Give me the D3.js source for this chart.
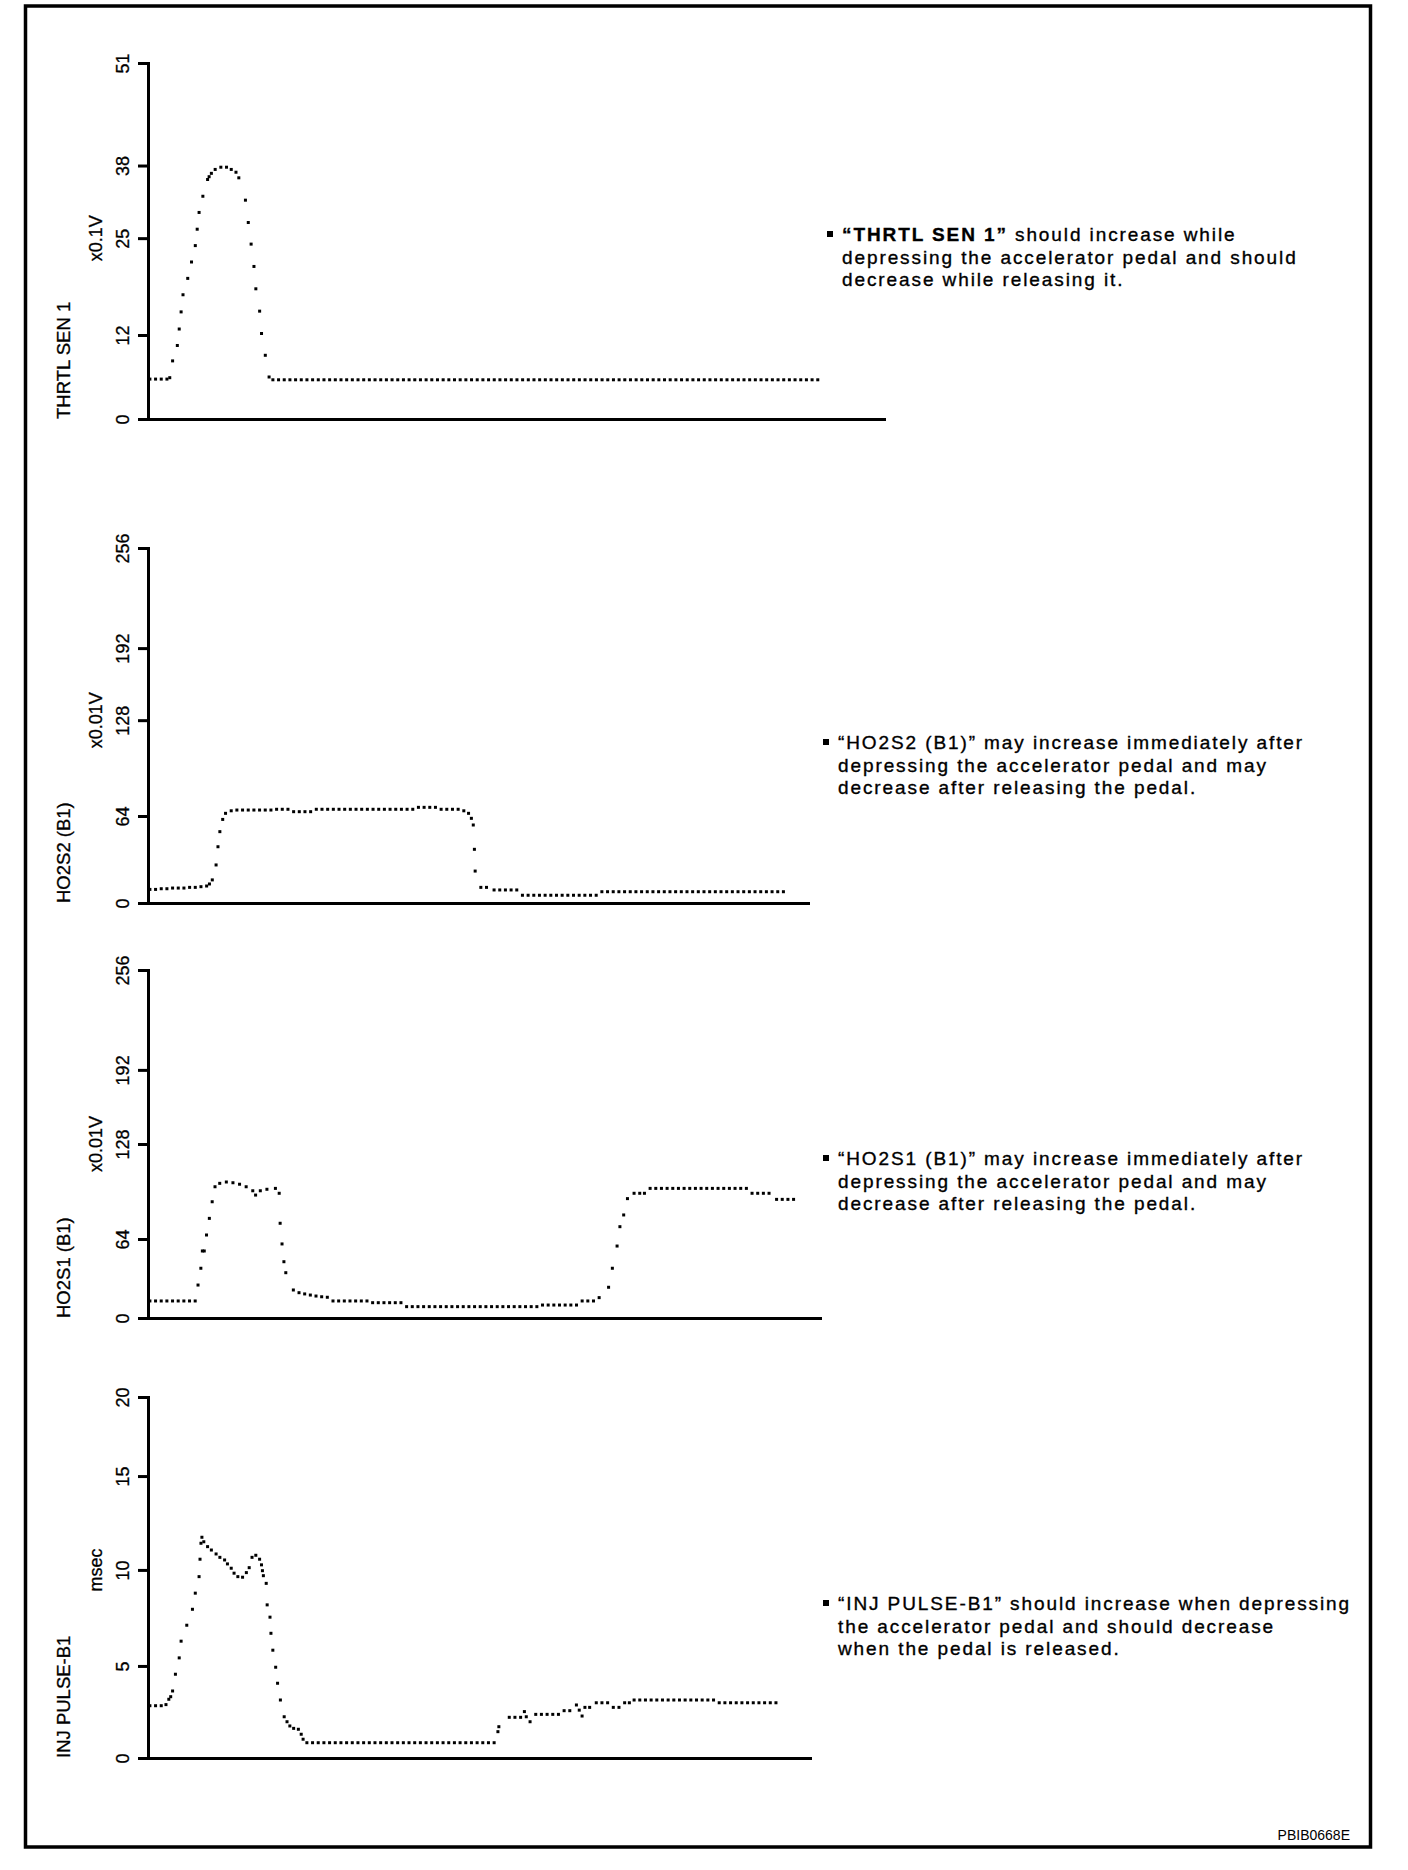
<!DOCTYPE html>
<html>
<head>
<meta charset="utf-8">
<script src="https://cdn.jsdelivr.net/npm/d3@7"></script>
<style>
  body { margin: 0; background: #fff; }
  svg text { font-family: "Liberation Sans", Arial, Helvetica, sans-serif; fill: #000; }
</style>
</head>
<body>
<div id="chart"></div>
<script>
// tick labels of each trace (as printed on the sheet)
var thrtlTicks = [0, 12, 25, 38, 51];
var ho2s2Ticks = [0, 64, 128, 192, 256];
var ho2s1Ticks = [0, 64, 128, 192, 256];
var injTicks = [0, 5, 10, 15, 20];

// recorded samples: [sample time, value]
var thrtlSen1 = [
  [1,5.7],[4,5.7],[7,5.7],[10,5.7],[11.5,5.9],[13,8.3],[15.5,10.5],[16.5,12.8],[17.5,15.1],[18.5,17.4],
  [21,19.6],[23,21.8],[25,24.0],[26,26.6],[27,29.6],[29,32.5],[31.5,35.5],[32.3,36.0],[33.5,36.6],[35.5,37.3],
  [38.5,37.7],[41.5,37.7],[44,37.3],[46.5,36.8],[48,35.8],[51.5,31.8],[53,27.8],[54.5,24.2],[56,21.2],[57,18.2],
  [59,15.2],[60,12.2],[62,9.1],[64,6.0],
  [66,5.6],[69,5.6],[72,5.6],[75,5.6],[78,5.6],[81,5.6],[84,5.6],[87,5.6],[90,5.6],[93,5.6],
  [96,5.6],[99,5.6],[102,5.6],[105,5.6],[108,5.6],[111,5.6],[114,5.6],[117,5.6],[120,5.6],[123,5.6],
  [126,5.6],[129,5.6],[132,5.6],[135,5.6],[138,5.6],[141,5.6],[144,5.6],[147,5.6],[150,5.6],[153,5.6],
  [156,5.6],[159,5.6],[162,5.6],[165,5.6],[168,5.6],[171,5.6],[174,5.6],[177,5.6],[180,5.6],[183,5.6],
  [186,5.6],[189,5.6],[192,5.6],[195,5.6],[198,5.6],[201,5.6],[204,5.6],[207,5.6],[210,5.6],[213,5.6],
  [216,5.6],[219,5.6],[222,5.6],[225,5.6],[228,5.6],[231,5.6],[234,5.6],[237,5.6],[240,5.6],[243,5.6],
  [246,5.6],[249,5.6],[252,5.6],[255,5.6],[258,5.6],[261,5.6],[264,5.6],[267,5.6],[270,5.6],[273,5.6],
  [276,5.6],[279,5.6],[282,5.6],[285,5.6],[288,5.6],[291,5.6],[294,5.6],[297,5.6],[300,5.6],[303,5.6],
  [306,5.6],[309,5.6],[312,5.6],[315,5.6],[318,5.6],[321,5.6],[324,5.6],[327,5.6],[330,5.6],[333,5.6],
  [336,5.6],[339,5.6],[342,5.6],[345,5.6],[348,5.6],[351,5.6],[354,5.6]
];

var ho2s2 = [
  [1,10],[4,10],[7,10.5],[10,10.5],[13,11],[16,11],[19,11],[22,11.5],[25,11.5],[28,12],
  [31,12.5],[32.5,14],[34,17],[36,28],[37,41.4],[38,52.5],[39.5,61.5],[41,65.8],[44,67.5],[47,68],
  [50,68],[53,68],[56,68],[59,68],[62,68],[65,68],[68,68.5],[71,68.5],[74,68.5],[77,66.9],
  [80,66.9],[83,66.9],[86,66.9],[89,68.5],[92,68.5],[95,68.5],[98,68.5],[101,68.5],[104,68.5],[107,68.5],
  [110,68.5],[113,68.5],[116,68.5],[119,68.5],[122,68.5],[125,68.5],[128,68.5],[131,68.5],[134,68.5],[137,68.5],
  [140,68.5],[143,69.8],[146,69.8],[149,69.8],[152,69.8],[155,68.5],[158,68.5],[161,68.5],[164,68.5],
  [167,67.5],[169.5,65.8],[171,62.3],[172,57.4],[172.6,39.5],[173,23.5],[176,11.5],[179,11.5],
  [183,9.6],[186,9.6],[189,9.6],[192,9.6],[195,9.6],
  [198,5.7],[201,5.7],[204,5.7],[207,5.7],[210,5.7],[213,5.7],[216,5.7],[219,5.7],[222,5.7],[225,5.7],
  [228,5.7],[231,5.7],[234,5.7],[237,5.7],
  [240,8.3],[243,8.3],[246,8.3],[249,8.3],[252,8.3],[255,8.3],[258,8.3],[261,8.3],[264,8.3],[267,8.3],
  [270,8.3],[273,8.3],[276,8.3],[279,8.3],[282,8.3],[285,8.3],[288,8.3],[291,8.3],[294,8.3],[297,8.3],
  [300,8.3],[303,8.3],[306,8.3],[309,8.3],[312,8.3],[315,8.3],[318,8.3],[321,8.3],[324,8.3],[327,8.3],
  [330,8.3],[333,8.3],[336,8.3]
];

var ho2s1 = [
  [1,13.8],[4,13.8],[7,13.8],[10,13.8],[13,13.8],[16,13.8],[19,13.8],[22,13.8],[25,13.8],[26.5,26.7],
  [28,40.3],[28.8,54.3],[29.8,54.3],[31,66.7],[32.5,77.9],[34,89.1],[35.5,99.2],[38,101.5],[41.5,102.4],[45,101.9],
  [48.5,100.9],[52,99.2],[55.5,96.5],[57,93.6],[59.5,96.5],[63,97.5],[67.5,98.1],[69.5,94.8],[70,74.6],[71,60],
  [72,45.6],[73,36.7],[77,22.7],[80,20.5],[83,19.5],[86,18.6],[89,17.8],[92,17.2],[95,16.8],
  [98,13.8],[101,13.8],[104,13.8],[107,13.8],[110,13.8],[113,13.8],[116,13.8],
  [119,12.4],[122,12.4],[125,12.4],[128,12.4],[131,12.4],[134,12.4],
  [137,9.2],[140,9.2],[143,9.2],[146,9.2],[149,9.2],[152,9.2],[155,9.2],[158,9.2],[161,9.2],[164,9.2],
  [167,9.2],[170,9.2],[173,9.2],[176,9.2],[179,9.2],[182,9.2],[185,9.2],[188,9.2],[191,9.2],[194,9.2],
  [197,9.2],[200,9.2],[203,9.2],[206,9.2],
  [209,10.5],[212,10.5],[215,10.5],[218,10.5],[221,10.5],[224,10.5],[227,10.5],
  [230,13.8],[233,13.8],[236,13.8],[239,16.5],[244,24.9],[246,40.3],[248.5,58.3],[250,72.3],[252,80.2],[254,91.2],
  [257.5,94.8],[260.5,94.8],[263,94.8],
  [266,98.1],[269,98.1],[272,98.1],[275,98.1],[278,98.1],[281,98.1],[284,98.1],[287,98.1],[290,98.1],[293,98.1],
  [296,98.1],[299,98.1],[302,98.1],[305,98.1],[308,98.1],[311,98.1],[314,98.1],[317,98.1],
  [320,94.8],[323,94.8],[326,94.8],[329,94.8],
  [333,90.7],[336,90.7],[339,90.7],[342,90.7]
];

var injPulseB1 = [
  [1,2.84],[4,2.84],[7,2.84],[9.5,2.9],[11,3.19],[12,3.33],[13,3.64],[14.5,4.55],[16.5,5.42],[17.5,6.29],
  [20.5,7.12],[23.5,7.95],[25,8.79],[27,9.65],[27.5,10.57],[28,11.42],[28.5,11.74],[29.5,11.5],[31.5,11.24],[33.5,11.06],
  [36,10.85],[38,10.67],[40.5,10.53],[42,10.32],[44,10.09],[45.5,9.83],[47.5,9.65],[50,9.62],[52,9.86],[53.5,10.12],
  [55,10.67],[57,10.78],[59,10.57],[60,10.27],[60.5,9.96],[61,9.7],[62.5,9.3],[63,8.18],[64.5,7.54],[65,6.7],
  [66,5.82],[67.5,4.93],[68.5,4.06],[70,3.15],[72,2.24],[73.5,1.97],[75,1.74],[77,1.61],[79.5,1.56],[81,1.29],
  [82,1.02],
  [84,0.83],[87,0.83],[90,0.83],[93,0.83],[96,0.83],[99,0.83],[102,0.83],[105,0.83],[108,0.83],[111,0.83],
  [114,0.83],[117,0.83],[120,0.83],[123,0.83],[126,0.83],[129,0.83],[132,0.83],[135,0.83],[138,0.83],[141,0.83],
  [144,0.83],[147,0.83],[150,0.83],[153,0.83],[156,0.83],[159,0.83],[162,0.83],[165,0.83],[168,0.83],[171,0.83],
  [174,0.83],[177,0.83],[180,0.83],[183,0.83],
  [185,1.43],[185.5,1.7],[191,2.21],[194,2.21],[197,2.21],[199,2.52],[200,2.24],[202,1.97],[205,2.37],[208,2.37],
  [211,2.37],[214,2.37],[217,2.37],[220,2.57],[223,2.57],[226.5,2.88],[228,2.6],[229.5,2.28],[231,2.75],[233.5,2.75],
  [237,3.0],[240,3.0],[243,3.0],[246,2.75],[249,2.75],[252,3.0],[254.5,3.0],
  [257,3.15],[260,3.15],[263,3.15],[266,3.15],[269,3.15],[272,3.15],[275,3.15],[278,3.15],[281,3.15],[284,3.15],
  [287,3.15],[290,3.15],[293,3.15],[296,3.15],[299,3.15],
  [302,3.0],[305,3.0],[308,3.0],[311,3.0],[314,3.0],[317,3.0],[320,3.0],[323,3.0],[326,3.0],[329,3.0],[332,3.0]
];

// notes beside each trace
var thrtlNote = ["\u201cTHRTL SEN 1\u201d", " should increase while", "depressing the accelerator pedal and should", "decrease while releasing it."];
var ho2s2Note = ["\u201cHO2S2 (B1)\u201d", " may increase immediately after", "depressing the accelerator pedal and may", "decrease after releasing the pedal."];
var ho2s1Note = ["\u201cHO2S1 (B1)\u201d", " may increase immediately after", "depressing the accelerator pedal and may", "decrease after releasing the pedal."];
var injNote = ["\u201cINJ PULSE-B1\u201d", " should increase when depressing", "the accelerator pedal and should decrease", "when the pedal is released."];

var svgWidth = 1408;
var svgHeight = 1870;

var axisX = 148;
var lineGap = 22.5;

var panels = [
  {label: "THRTL SEN 1", unit: "x0.1V", unitAt: 25, ticks: thrtlTicks, data: thrtlSen1, tMax: 389,
   top: 63, bottom: 419, right: 884, frac: [0, 0.236, 0.508, 0.712, 1], note: thrtlNote, noteX: 842, noteY: 241, bold: true},
  {label: "HO2S2 (B1)", unit: "x0.01V", unitAt: 128, ticks: ho2s2Ticks, data: ho2s2, tMax: 349,
   top: 548, bottom: 903, right: 808, frac: [0, 0.245, 0.515, 0.718, 1], note: ho2s2Note, noteX: 838, noteY: 749, bold: false},
  {label: "HO2S1 (B1)", unit: "x0.01V", unitAt: 128, ticks: ho2s1Ticks, data: ho2s1, tMax: 356,
   top: 970, bottom: 1318, right: 820, frac: [0, 0.227, 0.5, 0.713, 1], note: ho2s1Note, noteX: 838, noteY: 1165, bold: false},
  {label: "INJ PULSE-B1", unit: "msec", unitAt: 10, ticks: injTicks, data: injPulseB1, tMax: 350,
   top: 1397, bottom: 1758, right: 810, frac: [0, 0.255, 0.521, 0.781, 1], note: injNote, noteX: 838, noteY: 1610, bold: false}
];

var svg = d3.select("#chart")
  .append("svg")
  .attr("width", svgWidth)
  .attr("height", svgHeight);

// outer frame
svg.append("rect")
  .attr("x", 25.5)
  .attr("y", 6)
  .attr("width", 1345)
  .attr("height", 1841)
  .attr("fill", "none")
  .attr("stroke", "#000")
  .attr("stroke-width", 3.5);

panels.forEach(function(p) {
  var g = svg.append("g");

  var xScale = d3.scaleLinear()
    .domain([0, p.tMax])
    .range([axisX, p.right]);

  // the printed ticks are not evenly spaced, so map them piece by piece
  var yScale = d3.scaleLinear()
    .domain(p.ticks)
    .range(p.frac.map(f => p.bottom - f * (p.bottom - p.top)));

  var yAxis = d3.axisLeft(yScale)
    .tickValues(p.ticks)
    .tickSize(10)
    .tickSizeOuter(0);

  var yg = g.append("g")
    .attr("transform", `translate(${axisX},0)`)
    .call(yAxis);

  yg.select(".domain").attr("stroke-width", 3).attr("stroke-linecap", "square");
  yg.selectAll(".tick line").attr("stroke-width", 3);
  yg.selectAll(".tick text")
    .attr("transform", "rotate(-90)")
    .attr("x", 0)
    .attr("y", -19)
    .attr("dy", 0)
    .attr("text-anchor", "middle")
    .attr("font-size", 18)
    .attr("font-family", null)
    .attr("stroke", "#000")
    .attr("stroke-width", 0.3);

  var xg = g.append("g")
    .attr("transform", `translate(0,${p.bottom})`)
    .call(d3.axisBottom(xScale).tickValues([]).tickSizeOuter(0));
  xg.select(".domain").attr("stroke-width", 3).attr("stroke-linecap", "square");

  // unit label
  g.append("text")
    .attr("transform", `translate(102,${yScale(p.unitAt)}) rotate(-90)`)
    .attr("text-anchor", "middle")
    .attr("font-size", 18)
    .attr("stroke", "#000")
    .attr("stroke-width", 0.3)
    .text(p.unit);

  // trace name
  g.append("text")
    .attr("transform", `translate(70,${p.bottom}) rotate(-90)`)
    .attr("text-anchor", "start")
    .attr("font-size", 18.5)
    .attr("stroke", "#000")
    .attr("stroke-width", 0.3)
    .text(p.label);

  // dotted trace
  g.append("g")
    .selectAll("rect")
    .data(p.data)
    .enter()
    .append("rect")
    .attr("x", d => xScale(d[0]) - 1.5)
    .attr("y", d => yScale(d[1]) - 1.5)
    .attr("width", 3)
    .attr("height", 3)
    .attr("fill", "#000");

  // note text
  g.append("rect")
    .attr("x", p.noteX - 15)
    .attr("y", p.noteY - 10)
    .attr("width", 6)
    .attr("height", 6)
    .attr("fill", "#000");

  var first = g.append("text")
    .attr("x", p.noteX)
    .attr("y", p.noteY)
    .attr("font-size", 19)
    .attr("letter-spacing", 1.9)
    .attr("stroke", "#000")
    .attr("stroke-width", 0.35);
  first.append("tspan").attr("font-weight", p.bold ? "bold" : null).text(p.note[0]);
  first.append("tspan").text(p.note[1]);

  g.selectAll(".noteLine")
    .data(p.note.slice(2))
    .enter()
    .append("text")
    .attr("class", "noteLine")
    .attr("x", p.noteX)
    .attr("y", (d, i) => p.noteY + (i + 1) * lineGap)
    .attr("font-size", 19)
    .attr("letter-spacing", 1.9)
    .attr("stroke", "#000")
    .attr("stroke-width", 0.35)
    .text(d => d);
});

svg.append("text")
  .attr("x", 1350)
  .attr("y", 1840)
  .attr("text-anchor", "end")
  .attr("font-size", 14)
  .text("PBIB0668E");
</script>
</body>
</html>
